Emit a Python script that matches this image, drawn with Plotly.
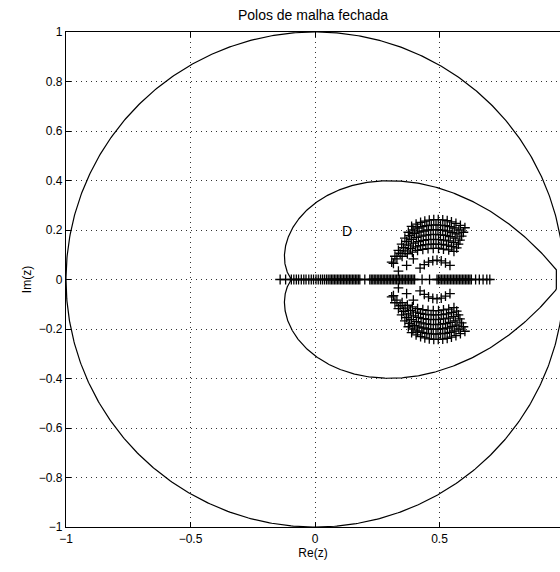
import numpy as np
import plotly.graph_objects as go

# Closed-loop poles on the real axis
real_poles = [
    -0.140, -0.118, -0.095, -0.085, -0.075, -0.066, -0.055, -0.045, -0.036,
    -0.025, -0.015, -0.006, 0.004, 0.013, 0.022, 0.030, 0.038, 0.046, 0.053,
    0.060, 0.066, 0.072, 0.078, 0.084, 0.090, 0.096, 0.102, 0.108, 0.114,
    0.120, 0.126, 0.132, 0.138, 0.144, 0.150, 0.156, 0.162, 0.168, 0.174, 0.180,
    0.200,
    0.220, 0.226, 0.232, 0.238, 0.244, 0.250, 0.256, 0.262, 0.268, 0.274,
    0.280, 0.286, 0.292, 0.298, 0.304, 0.310, 0.316, 0.322, 0.328, 0.334,
    0.340, 0.346, 0.352, 0.358, 0.364, 0.370, 0.376, 0.382, 0.388, 0.394, 0.400,
    0.430, 0.460,
    0.490, 0.496, 0.502, 0.508, 0.514, 0.520, 0.526, 0.532, 0.538, 0.544,
    0.550, 0.556, 0.562, 0.568, 0.574, 0.580, 0.586, 0.592, 0.598, 0.604,
    0.610, 0.616, 0.622, 0.628,
    0.645, 0.660, 0.675, 0.690, 0.702,
]

# Complex closed-loop poles (upper half-plane), one list per arc
arc1_re = [0.388, 0.406, 0.424, 0.441, 0.459, 0.477, 0.495, 0.513, 0.531, 0.548, 0.566, 0.584, 0.602]
arc1_im = [0.215, 0.224, 0.231, 0.236, 0.240, 0.242, 0.242, 0.241, 0.238, 0.233, 0.227, 0.219, 0.209]
arc2_re = [0.375, 0.393, 0.412, 0.430, 0.449, 0.467, 0.486, 0.504, 0.522, 0.541, 0.559, 0.578, 0.596]
arc2_im = [0.191, 0.200, 0.208, 0.214, 0.218, 0.220, 0.221, 0.220, 0.218, 0.214, 0.208, 0.200, 0.191]
arc3_re = [0.361, 0.380, 0.399, 0.418, 0.437, 0.456, 0.475, 0.494, 0.513, 0.532, 0.551, 0.570, 0.589]
arc3_im = [0.167, 0.177, 0.185, 0.192, 0.196, 0.200, 0.201, 0.201, 0.199, 0.196, 0.190, 0.184, 0.175]
arc4_re = [0.348, 0.368, 0.387, 0.407, 0.426, 0.446, 0.465, 0.485, 0.504, 0.524, 0.543, 0.563, 0.582]
arc4_im = [0.143, 0.154, 0.162, 0.170, 0.175, 0.179, 0.181, 0.182, 0.180, 0.178, 0.173, 0.167, 0.159]
arc5_re = [0.335, 0.355, 0.375, 0.395, 0.415, 0.435, 0.456, 0.476, 0.496, 0.516, 0.536, 0.556, 0.576]
arc5_im = [0.118, 0.129, 0.139, 0.147, 0.153, 0.158, 0.161, 0.162, 0.161, 0.159, 0.156, 0.150, 0.143]
arc6_re = [0.321, 0.342, 0.362, 0.383, 0.404, 0.424, 0.445, 0.466, 0.486, 0.507, 0.528, 0.548, 0.569]
arc6_im = [0.094, 0.106, 0.116, 0.125, 0.132, 0.137, 0.141, 0.143, 0.143, 0.142, 0.139, 0.134, 0.128]
arc7_re = [0.308, 0.329, 0.350, 0.371, 0.391, 0.412, 0.433, 0.454, 0.475, 0.496, 0.516, 0.537, 0.558]
arc7_im = [0.070, 0.083, 0.094, 0.104, 0.111, 0.118, 0.122, 0.125, 0.126, 0.126, 0.123, 0.120, 0.114]
arc8_re = [0.422, 0.439, 0.456, 0.473, 0.490, 0.507, 0.524, 0.542]
arc8_im = [0.046, 0.060, 0.070, 0.076, 0.078, 0.075, 0.067, 0.057]
loose_re = [0.315, 0.335, 0.395, 0.368]
loose_im = [0.065, 0.034, 0.083, 0.057]

# Region D: constant damping-ratio spiral closed by a radius limit
ZETA = 0.6
R_MAX = 0.97

x_ticks = [-1, -0.5, 0, 0.5]
x_tick_text = ["\u22121", "\u22120.5", "0", "0.5"]
y_ticks = [-1, -0.8, -0.6, -0.4, -0.2, 0, 0.2, 0.4, 0.6, 0.8, 1]
y_tick_text = ["\u22121", "\u22120.8", "\u22120.6", "\u22120.4", "\u22120.2", "0",
               "0.2", "0.4", "0.6", "0.8", "1"]

# Unit circle
t = np.linspace(0, 2 * np.pi, 721)
circ_x = np.cos(t)
circ_y = np.sin(t)

# Boundary of D
sig = ZETA / np.sqrt(1 - ZETA ** 2)
th0 = np.log(1 / R_MAX) / sig
th_up = np.linspace(th0, np.pi, 400)
r_up = np.exp(-sig * th_up)
arc_th = np.linspace(-th0, th0, 20)
bx = np.concatenate([R_MAX * np.cos(arc_th), r_up * np.cos(th_up),
                     (r_up * np.cos(th_up))[::-1]])
by = np.concatenate([R_MAX * np.sin(arc_th), r_up * np.sin(th_up),
                     (-r_up * np.sin(th_up))[::-1]])
bx = np.append(bx, bx[0])
by = np.append(by, by[0])

cx = np.concatenate([arc1_re, arc2_re, arc3_re, arc4_re, arc5_re, arc6_re,
                     arc7_re, arc8_re, loose_re])
cy = np.concatenate([arc1_im, arc2_im, arc3_im, arc4_im, arc5_im, arc6_im,
                     arc7_im, arc8_im, loose_im])
# complex poles come in conjugate pairs
pole_x = np.concatenate([real_poles, cx, cx])
pole_y = np.concatenate([np.zeros(len(real_poles)), cy, -cy])

fig = go.Figure()
fig.add_trace(go.Scatter(x=circ_x, y=circ_y, mode="lines",
                         line=dict(color="black", width=1.2), hoverinfo="skip"))
fig.add_trace(go.Scatter(x=bx, y=by, mode="lines",
                         line=dict(color="black", width=1.2), hoverinfo="skip"))
fig.add_trace(go.Scatter(x=pole_x, y=pole_y, mode="markers",
                         marker=dict(symbol="cross-thin", size=7,
                                     line=dict(color="black", width=1.3))))

fig.add_annotation(x=0.128, y=0.194, text="D", showarrow=False,
                   font=dict(family="Liberation Sans, Arial", size=14, color="black"))

font = dict(family="Liberation Sans, Arial, sans-serif", size=12, color="black")
fig.update_layout(
    width=560, height=572,
    margin=dict(l=66, r=0, t=32, b=45),
    paper_bgcolor="white", plot_bgcolor="white",
    showlegend=False,
    font=font,
    title=dict(text="Polos de malha fechada", x=0.5, xref="paper",
               y=1 - 15 / 572, yanchor="middle",
               font=dict(family="Liberation Sans, Arial", size=14, color="black")),
)
fig.update_xaxes(range=[-1, -1 + 494 / 249], tickvals=x_ticks, ticktext=x_tick_text,
                 showgrid=True, gridcolor="#333", griddash="1px,4px", gridwidth=1,
                 zeroline=False, showline=True, linecolor="black", linewidth=1.3,
                 mirror="ticks", ticks="inside", ticklen=5, tickcolor="black",
                 title=dict(text="Re(z)", standoff=2, font=font))
fig.update_yaxes(range=[-1, 1], tickvals=y_ticks, ticktext=y_tick_text,
                 showgrid=True, gridcolor="#333", griddash="1px,4px", gridwidth=1,
                 zeroline=False, showline=True, linecolor="black", linewidth=1.3,
                 mirror=False, ticks="inside", ticklen=5, tickcolor="black",
                 title=dict(text="Im(z)", standoff=4, font=font))

fig.write_html("out.html")
